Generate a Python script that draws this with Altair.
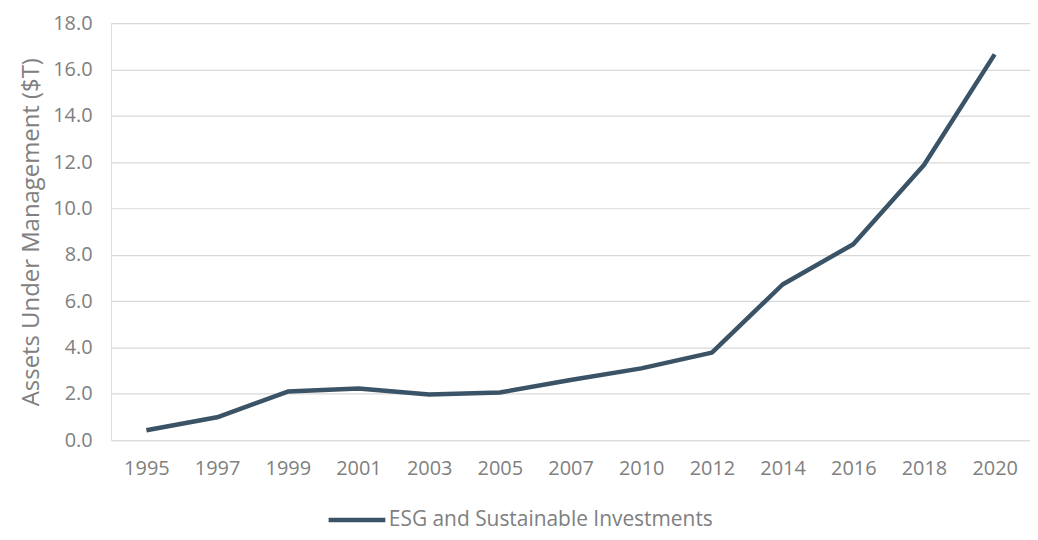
import altair as alt
import pandas as pd

years = ["1995", "1997", "1999", "2001", "2003", "2005", "2007",
         "2010", "2012", "2014", "2016", "2018", "2020"]
values = [0.43, 0.99, 2.10, 2.23, 1.97, 2.06, 2.60,
          3.10, 3.78, 6.72, 8.46, 11.88, 16.65]
series = ["ESG and Sustainable Investments"] * len(years)

df = pd.DataFrame({"Year": years, "AUM": values, "Series": series})

FONT = "Open Sans"
GRAY = "#808080"
LINE = "#3a5366"

chart = alt.Chart(df).mark_line(strokeWidth=4.5, strokeJoin="round", strokeCap="butt").encode(
    x=alt.X("Year:O", sort=years,
            scale=alt.Scale(type="point", padding=0.5),
            axis=alt.Axis(title=None, labelAngle=0, ticks=False, domain=False,
                          labelPadding=18, labelFont=FONT, labelFontSize=20,
                          labelColor=GRAY, grid=False)),
    y=alt.Y("AUM:Q", scale=alt.Scale(domain=[0, 18], nice=False, zero=True),
            axis=alt.Axis(title="Assets Under Management ($T)",
                          values=[0, 2, 4, 6, 8, 10, 12, 14, 16, 18],
                          format=".1f", ticks=False, domain=False,
                          labelPadding=19, labelFont=FONT, labelFontSize=20,
                          labelColor=GRAY, titleFont=FONT, titleFontSize=24,
                          titleFontWeight="normal", titleColor=GRAY,
                          titlePadding=9, gridColor="#d9d9d9", gridWidth=1.2)),
    color=alt.Color("Series:N",
                    scale=alt.Scale(range=[LINE]),
                    legend=alt.Legend(title=None, orient="none",
                                      legendX=216, legendY=468,
                                      symbolType="stroke", symbolSize=3249,
                                      symbolStrokeWidth=4.5, labelOffset=1,
                                      labelFont=FONT, labelFontSize=21,
                                      labelColor=GRAY, labelLimit=500)),
).properties(
    width=923, height=419,
    autosize=alt.AutoSizeParams(type="none"),
    padding={"left": 103.5, "top": 14, "right": 0, "bottom": 90},
).configure_view(stroke=None).configure(background="white")

chart.save("out.html", embed_options={"renderer": "svg", "actions": False})
